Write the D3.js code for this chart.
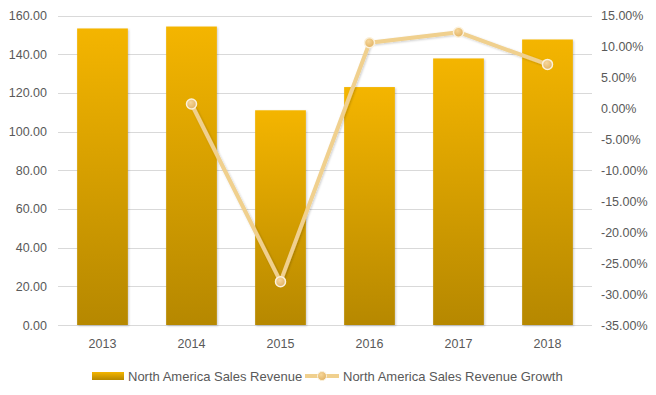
<!DOCTYPE html>
<html><head><meta charset="utf-8">
<script src="https://cdn.jsdelivr.net/npm/d3@7"></script>
<style>body{margin:0;background:#fff}svg{display:block}</style>
</head><body><svg id="c" width="656" height="395"></svg>
<script>
const years = ["2013","2014","2015","2016","2017","2018"];
const revenue = [153.3, 154.3, 111.0, 123.0, 137.8, 147.6];
const growth = [null, 0.7, -28.0, 10.6, 12.3, 7.1];
const leftTicks = [0,20,40,60,80,100,120,140,160];
const rightTicks = [15,10,5,0,-5,-10,-15,-20,-25,-30,-35];

const svg = d3.select("#c");
const font = "'Liberation Sans', Arial, sans-serif";
const m = {l:58, r:592, t:15.5, b:325};
const x = d3.scaleBand().domain(years).range([m.l, m.r]).paddingInner(0.43).paddingOuter(0.215);
const yL = d3.scaleLinear().domain([0,160]).range([m.b, m.t]);
const yR = d3.scaleLinear().domain([-35,15]).range([m.b, m.t]);

const defs = svg.append("defs");
const g = defs.append("linearGradient").attr("id","barG").attr("x1",0).attr("y1",0).attr("x2",0).attr("y2",1);
g.append("stop").attr("offset","0%").attr("stop-color","#F4B500");
g.append("stop").attr("offset","100%").attr("stop-color","#B68800");
const mg = defs.append("radialGradient").attr("id","mkG").attr("cx","40%").attr("cy","35%").attr("r","70%");
mg.append("stop").attr("offset","0%").attr("stop-color","#F7D79A");
mg.append("stop").attr("offset","100%").attr("stop-color","#E0B060");
const f = defs.append("filter").attr("id","sh").attr("x","-20%").attr("y","-20%").attr("width","150%").attr("height","150%");
f.append("feDropShadow").attr("dx",1).attr("dy",1).attr("stdDeviation",1.2).attr("flood-color","#000").attr("flood-opacity",0.2);

// gridlines
svg.append("g").selectAll("line").data(leftTicks).join("line")
  .attr("x1",m.l).attr("x2",m.r).attr("y1",d=>Math.round(yL(d))+0.5).attr("y2",d=>Math.round(yL(d))+0.5)
  .attr("stroke","#D9D9D9").attr("stroke-width",1);

// left axis labels
const axL = svg.append("g").attr("transform",`translate(${m.l},0)`)
  .call(d3.axisLeft(yL).tickValues(leftTicks).tickFormat(d3.format(".2f")).tickSize(0).tickPadding(11));
axL.select(".domain").remove();
axL.selectAll("text").attr("font-family",font).attr("font-size","12.5px").attr("fill","#595959");

// right axis labels
const axR = svg.append("g").attr("transform",`translate(${m.r},0)`)
  .call(d3.axisRight(yR).tickValues(rightTicks).tickFormat(d=>d.toFixed(2)+"%").tickSize(0).tickPadding(9));
axR.select(".domain").remove();
axR.selectAll("text").attr("font-family",font).attr("font-size","12.5px").attr("fill","#595959");

// bars
svg.append("g").selectAll("rect").data(years).join("rect")
  .attr("x",d=>x(d)).attr("width",x.bandwidth())
  .attr("y",(d,i)=>yL(revenue[i])).attr("height",(d,i)=>yL(0)-yL(revenue[i]))
  .attr("fill","url(#barG)").attr("filter","url(#sh)");

// x axis labels
const axB = svg.append("g").attr("transform",`translate(0,${m.b})`)
  .call(d3.axisBottom(x).tickSize(0).tickPadding(14));
axB.select(".domain").remove();
axB.selectAll("text").attr("font-family",font).attr("font-size","12.5px").attr("fill","#595959");

// line
const pts = years.map((y,i)=>({y, v:growth[i]})).filter(d=>d.v!==null);
const line = d3.line().x(d=>x(d.y)+x.bandwidth()/2).y(d=>yR(d.v));
svg.append("path").datum(pts).attr("d",line).attr("fill","none")
  .attr("stroke","#F0D08E").attr("stroke-width",4).attr("stroke-linejoin","round").attr("filter","url(#sh)");
svg.append("g").selectAll("circle").data(pts).join("circle")
  .attr("cx",d=>x(d.y)+x.bandwidth()/2).attr("cy",d=>yR(d.v)).attr("r",5)
  .attr("fill","url(#mkG)").attr("stroke","#FBF1DC").attr("stroke-width",1.5);

// legend
const lg = svg.append("g");
lg.append("rect").attr("x",92).attr("y",372).attr("width",32).attr("height",8).attr("fill","url(#barG)");
lg.append("text").attr("x",128).attr("y",381).text("North America Sales Revenue")
  .attr("font-family",font).attr("font-size","13px").attr("fill","#595959");
lg.append("line").attr("x1",305).attr("x2",339).attr("y1",376).attr("y2",376).attr("stroke","#F0D08E").attr("stroke-width",4);
lg.append("circle").attr("cx",322).attr("cy",376).attr("r",4.5).attr("fill","url(#mkG)").attr("stroke","#FBF1DC").attr("stroke-width",1);
lg.append("text").attr("x",343).attr("y",381).text("North America Sales Revenue Growth")
  .attr("font-family",font).attr("font-size","13px").attr("fill","#595959");
</script></body></html>
